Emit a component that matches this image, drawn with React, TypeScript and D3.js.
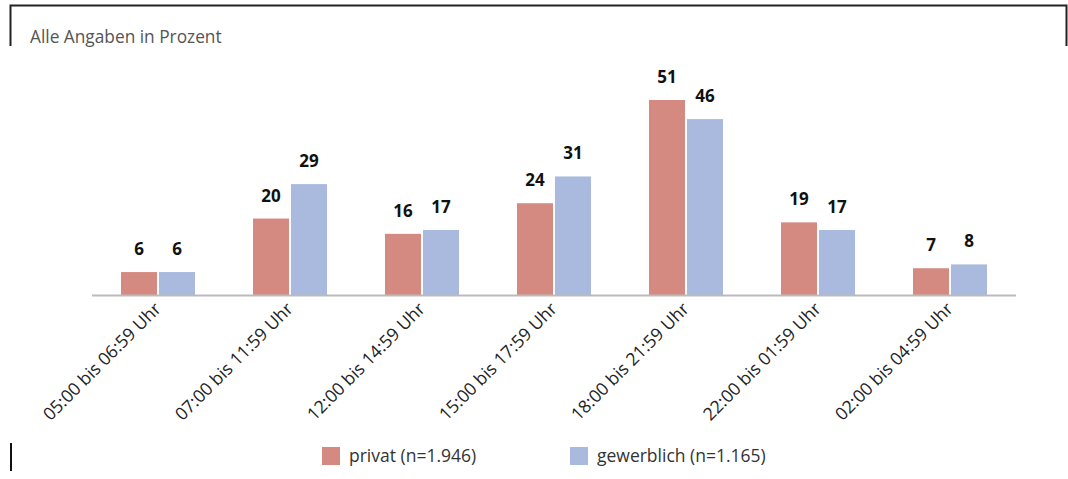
import React from "react";
import * as d3 from "d3";

const categories = [
  "05:00 bis 06:59 Uhr",
  "07:00 bis 11:59 Uhr",
  "12:00 bis 14:59 Uhr",
  "15:00 bis 17:59 Uhr",
  "18:00 bis 21:59 Uhr",
  "22:00 bis 01:59 Uhr",
  "02:00 bis 04:59 Uhr",
];
const privat = [6, 20, 16, 24, 51, 19, 7];
const gewerblich = [6, 29, 17, 31, 46, 17, 8];
const seriesNames = ["privat (n=1.946)", "gewerblich (n=1.165)"];
const colors = ["#D48A80", "#A9BADE"];

export default function App() {
  const W = 1068, H = 479;
  const baseY = 295;
  const x = d3.scaleBand<string>().domain(categories).range([92, 1016]);
  const y = d3.scaleLinear().domain([0, 51]).range([baseY, 100]);
  const barW = 36, gap = 2;
  const series = [privat, gewerblich];
  const font = "'Open Sans', 'Noto Sans', sans-serif";
  return (
    <svg width={W} height={H} style={{ position: "absolute", left: 0, top: 0 }} fontFamily={font}>
      <path d="M10.5,46 V5.5 H1066.5 V46" fill="none" stroke="#222" strokeWidth={2} />
      <line x1={11} x2={11} y1={443} y2={471} stroke="#111" strokeWidth={2} />
      <text x={30} y={43} fontSize={17.3} fill="#555">Alle Angaben in Prozent</text>
      {categories.map((c, i) => {
        const cx = (x(c) as number) + x.bandwidth() / 2;
        return (
          <g key={c}>
            {series.map((s, j) => {
              const bx = j === 0 ? cx - gap / 2 - barW : cx + gap / 2;
              return (
                <g key={j}>
                  <rect x={bx} y={y(s[i])} width={barW} height={baseY - y(s[i])} fill={colors[j]} />
                  <text x={bx + barW / 2} y={y(s[i]) - 17} textAnchor="middle" fontSize={17} fontWeight="bold" fill="#111">{s[i]}</text>
                </g>
              );
            })}
            <text
              transform={`translate(${cx + 4},${310}) rotate(-45)`}
              textAnchor="end"
              fontSize={17.6}
              fill="#222"
            >{c}</text>
          </g>
        );
      })}
      <line x1={92} x2={1016} y1={baseY + 0.5} y2={baseY + 0.5} stroke="#BBB" strokeWidth={2} />
      {seriesNames.map((n, j) => {
        const lx = j === 0 ? 322 : 570;
        return (
          <g key={n}>
            <rect x={lx} y={447} width={18} height={18} fill={colors[j]} />
            <text x={lx + 27} y={462} fontSize={17.5} fill="#333">{n}</text>
          </g>
        );
      })}
    </svg>
  );
}
